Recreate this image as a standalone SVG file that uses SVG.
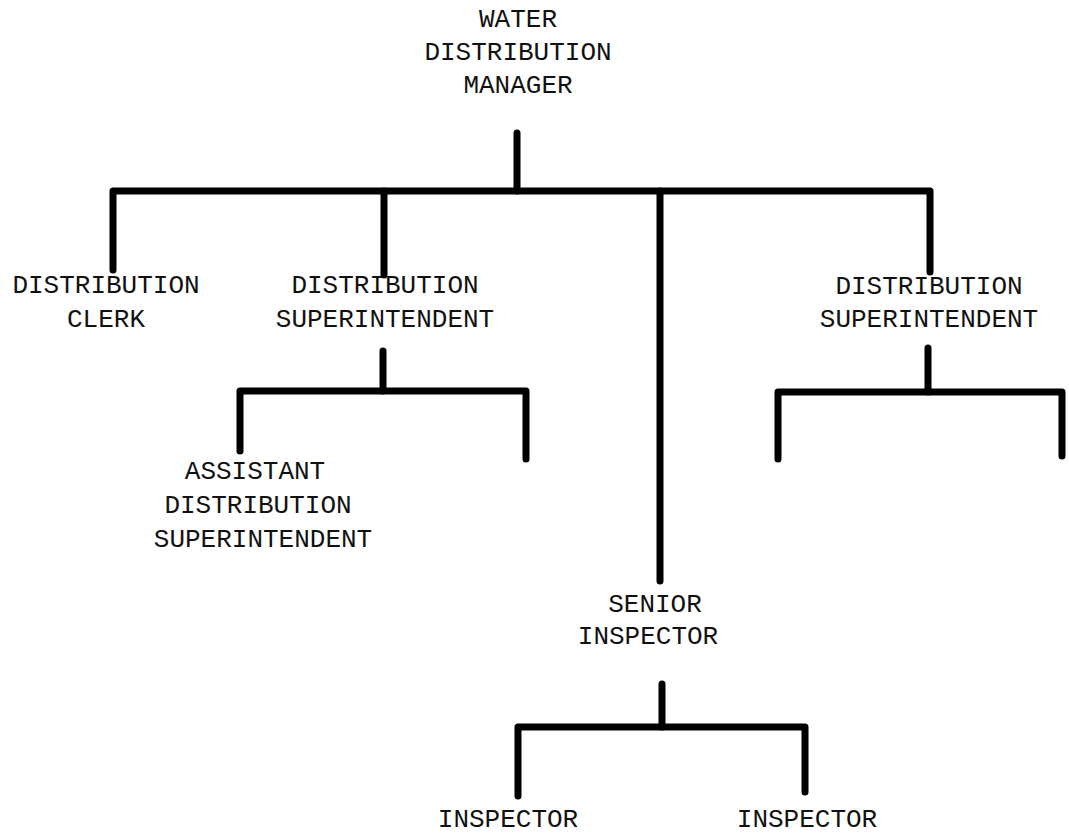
<svg xmlns="http://www.w3.org/2000/svg" width="1069" height="835" viewBox="0 0 1069 835">
  <style>
    .lbl { font-family: "Liberation Mono", "DejaVu Sans Mono", monospace; font-size: 26px; fill: #111; text-anchor: middle; }
    .wire { fill: none; stroke: #000; stroke-width: 7; stroke-linecap: round; stroke-linejoin: round; }
  </style>
  <rect width="1069" height="835" fill="#fff"/>

  <g id="connectors">
    <!-- manager to first level -->
    <path class="wire" d="M517 133 V191"/>
    <path class="wire" d="M113 270 V191 H930 V272"/>
    <path class="wire" d="M384 191 V275"/>
    <path class="wire" d="M660 191 V581"/>
    <!-- left superintendent branch -->
    <path class="wire" d="M383 351 V391"/>
    <path class="wire" d="M240 451 V391 H526 V459"/>
    <!-- right superintendent branch -->
    <path class="wire" d="M928 348 V392"/>
    <path class="wire" d="M778 459 V392 H1062 V456"/>
    <!-- senior inspector branch -->
    <path class="wire" d="M662 684 V727"/>
    <path class="wire" d="M518 796 V727 H805 V792"/>
  </g>

  <g id="water-distribution-manager">
    <text class="lbl" x="518" y="27">WATER</text>
    <text class="lbl" x="518" y="60">DISTRIBUTION</text>
    <text class="lbl" x="518" y="93">MANAGER</text>
  </g>

  <g id="distribution-clerk">
    <text class="lbl" x="106" y="293">DISTRIBUTION</text>
    <text class="lbl" x="106" y="327">CLERK</text>
  </g>

  <g id="distribution-superintendent-1">
    <text class="lbl" x="385" y="293">DISTRIBUTION</text>
    <text class="lbl" x="385" y="327">SUPERINTENDENT</text>
  </g>

  <g id="distribution-superintendent-2">
    <text class="lbl" x="929" y="294">DISTRIBUTION</text>
    <text class="lbl" x="929" y="327">SUPERINTENDENT</text>
  </g>

  <g id="assistant-distribution-superintendent">
    <text class="lbl" x="255" y="479">ASSISTANT</text>
    <text class="lbl" x="258" y="513">DISTRIBUTION</text>
    <text class="lbl" x="263" y="547">SUPERINTENDENT</text>
  </g>

  <g id="senior-inspector">
    <text class="lbl" x="655" y="612">SENIOR</text>
    <text class="lbl" x="648" y="644">INSPECTOR</text>
  </g>

  <g id="inspector-1">
    <text class="lbl" x="508" y="827">INSPECTOR</text>
  </g>

  <g id="inspector-2">
    <text class="lbl" x="807" y="827">INSPECTOR</text>
  </g>
</svg>
